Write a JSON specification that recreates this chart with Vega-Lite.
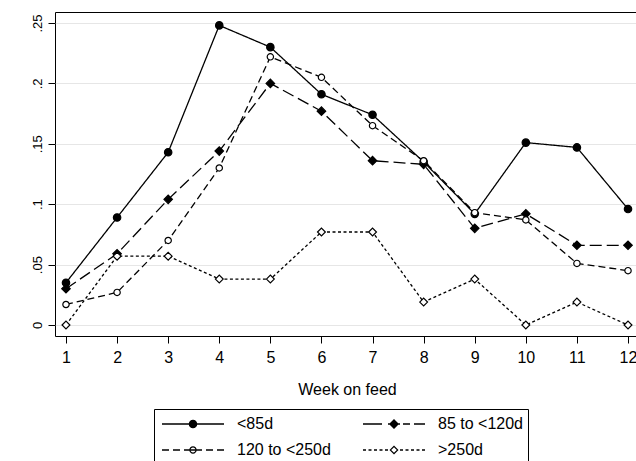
{
  "$schema": "https://vega.github.io/schema/vega-lite/v6.json",
  "autosize": "none",
  "padding": {"left": 55, "top": 12, "right": 0, "bottom": 125},
  "width": 584,
  "height": 324,
  "background": "white",
  "config": {
    "font": "Liberation Sans",
    "view": {"stroke": "black", "strokeWidth": 1},
    "axis": {"domain": false, "tickColor": "black", "tickWidth": 1, "labelColor": "black", "titleColor": "black", "titleFontWeight": "normal"}
  },
  "data": {
    "values": [
      {"week": 1, "group": "<85d", "value": 0.035},
      {"week": 2, "group": "<85d", "value": 0.089},
      {"week": 3, "group": "<85d", "value": 0.143},
      {"week": 4, "group": "<85d", "value": 0.248},
      {"week": 5, "group": "<85d", "value": 0.230},
      {"week": 6, "group": "<85d", "value": 0.191},
      {"week": 7, "group": "<85d", "value": 0.174},
      {"week": 8, "group": "<85d", "value": 0.135},
      {"week": 9, "group": "<85d", "value": 0.092},
      {"week": 10, "group": "<85d", "value": 0.151},
      {"week": 11, "group": "<85d", "value": 0.147},
      {"week": 12, "group": "<85d", "value": 0.096},
      {"week": 1, "group": "85 to <120d", "value": 0.030},
      {"week": 2, "group": "85 to <120d", "value": 0.059},
      {"week": 3, "group": "85 to <120d", "value": 0.104},
      {"week": 4, "group": "85 to <120d", "value": 0.144},
      {"week": 5, "group": "85 to <120d", "value": 0.200},
      {"week": 6, "group": "85 to <120d", "value": 0.177},
      {"week": 7, "group": "85 to <120d", "value": 0.136},
      {"week": 8, "group": "85 to <120d", "value": 0.133},
      {"week": 9, "group": "85 to <120d", "value": 0.080},
      {"week": 10, "group": "85 to <120d", "value": 0.092},
      {"week": 11, "group": "85 to <120d", "value": 0.066},
      {"week": 12, "group": "85 to <120d", "value": 0.066},
      {"week": 1, "group": "120 to <250d", "value": 0.017},
      {"week": 2, "group": "120 to <250d", "value": 0.027},
      {"week": 3, "group": "120 to <250d", "value": 0.070},
      {"week": 4, "group": "120 to <250d", "value": 0.130},
      {"week": 5, "group": "120 to <250d", "value": 0.222},
      {"week": 6, "group": "120 to <250d", "value": 0.205},
      {"week": 7, "group": "120 to <250d", "value": 0.165},
      {"week": 8, "group": "120 to <250d", "value": 0.136},
      {"week": 9, "group": "120 to <250d", "value": 0.093},
      {"week": 10, "group": "120 to <250d", "value": 0.087},
      {"week": 11, "group": "120 to <250d", "value": 0.051},
      {"week": 12, "group": "120 to <250d", "value": 0.045},
      {"week": 1, "group": ">250d", "value": 0.0},
      {"week": 2, "group": ">250d", "value": 0.057},
      {"week": 3, "group": ">250d", "value": 0.057},
      {"week": 4, "group": ">250d", "value": 0.038},
      {"week": 5, "group": ">250d", "value": 0.038},
      {"week": 6, "group": ">250d", "value": 0.077},
      {"week": 7, "group": ">250d", "value": 0.077},
      {"week": 8, "group": ">250d", "value": 0.019},
      {"week": 9, "group": ">250d", "value": 0.038},
      {"week": 10, "group": ">250d", "value": 0.0},
      {"week": 11, "group": ">250d", "value": 0.019},
      {"week": 12, "group": ">250d", "value": 0.0}
    ]
  },
  "encoding": {
    "x": {
      "field": "week", "type": "quantitative",
      "scale": {"domain": [0.785, 12.215], "nice": false, "zero": false},
      "axis": {"values": [1,2,3,4,5,6,7,8,9,10,11,12], "grid": false, "tickSize": 7, "labelPadding": 6, "labelFontSize": 16, "labelFlush": false, "labelOverlap": false, "title": "Week on feed", "titleFontSize": 16, "titlePadding": 16}
    },
    "y": {
      "field": "value", "type": "quantitative",
      "scale": {"domain": [-0.0091, 0.2591], "nice": false, "zero": false},
      "axis": {
        "values": [0, 0.05, 0.1, 0.15, 0.2, 0.25],
        "grid": true, "gridColor": "#e6e6e6", "gridWidth": 1,
        "tickSize": 7, "labelPadding": 6.3, "labelFontSize": 13,
        "labelAngle": 270, "labelAlign": "center", "labelBaseline": "alphabetic",
        "labelFlush": false, "labelOverlap": false,
        "labelExpr": "datum.value == 0 ? '0' : replace(format(datum.value, '.2~f'), '0.', '.')",
        "title": null,
        "encode": {"labels": {"update": {"dy": {"signal": "datum.value == 0 ? 0 : (abs(datum.value - 0.1) < 0.001 || abs(datum.value - 0.2) < 0.001) ? -9.7 : -19.2"}}}}
      }
    }
  },
  "layer": [
    {
      "mark": {"type": "point", "filled": true, "fill": "black", "strokeWidth": 0, "size": 0},
      "encoding": {
        "shape": {
          "field": "group", "type": "nominal",
          "scale": {
            "domain": ["<85d", "85 to <120d", "120 to <250d", ">250d"],
            "range": [
              "M-3.1,-0.065H3.1V0.065H-3.1Z M0,-0.43A0.43,0.43 0 1,1 0,0.43A0.43,0.43 0 1,1 0,-0.43Z",
              "M-3.1,-0.065H-1.2V0.065H-3.1Z M-0.6,-0.065H0.6V0.065H-0.6Z M0.9,-0.065H1.6V0.065H0.9Z M2,-0.065H3.1V0.065H2Z M0,-0.5L0.5,0L0,0.5L-0.5,0Z",
              "M-3.1,-0.065H-2.4V0.065H-3.1Z M-2,-0.065H-1.3V0.065H-2Z M-0.9,-0.065H0.9V0.065H-0.9Z M1.3,-0.065H2V0.065H1.3Z M2.4,-0.065H3.1V0.065H2.4Z M0,-0.37A0.37,0.37 0 1,1 0,0.37A0.37,0.37 0 1,1 0,-0.37Z M0,-0.25A0.25,0.25 0 1,0 0,0.25A0.25,0.25 0 1,0 0,-0.25Z",
              "M-3.1,-0.065H-2.8V0.065H-3.1Z M-2.55,-0.065H-2.25V0.065H-2.55Z M-2,-0.065H-1.7V0.065H-2Z M-1.45,-0.065H-1.15V0.065H-1.45Z M-0.9,-0.065H-0.6V0.065H-0.9Z M0.6,-0.065H0.9V0.065H0.6Z M1.15,-0.065H1.45V0.065H1.15Z M1.7,-0.065H2V0.065H1.7Z M2.25,-0.065H2.55V0.065H2.25Z M2.8,-0.065H3.1V0.065H2.8Z M0,-0.45L0.45,0L0,0.45L-0.45,0Z M0,-0.28L-0.28,0L0,0.28L0.28,0Z"
            ]
          },
          "legend": {
            "orient": "none", "legendX": 99, "legendY": 397,
            "title": null, "columns": 2, "direction": "horizontal",
            "symbolSize": 400, "symbolStrokeWidth": 0, "symbolOffset": 24,
            "symbolFillColor": "black", "symbolOpacity": 1,
            "labelOffset": 34, "labelFontSize": 16, "labelColor": "black", "labelFont": "Liberation Sans",
            "columnPadding": 29, "rowPadding": 8, "padding": 5,
            "strokeColor": "black", "fillColor": "white"
          }
        }
      }
    },
    {
      "mark": {"type": "line", "color": "black", "strokeWidth": 1.3},
      "encoding": {
        "detail": {"field": "group"},
        "strokeDash": {
          "field": "group", "type": "nominal", "legend": null,
          "scale": {"domain": ["<85d", "85 to <120d", "120 to <250d", ">250d"], "range": [[1, 0], [12, 5], [7, 4], [3, 2.5]]}
        }
      }
    },
    {
      "transform": [{"filter": "datum.group === '<85d'"}],
      "mark": {"type": "point", "shape": "circle", "filled": true, "fill": "black", "stroke": "black", "strokeWidth": 1.2, "opacity": 1, "size": 55}
    },
    {
      "transform": [{"filter": "datum.group === '85 to <120d'"}],
      "mark": {"type": "point", "shape": "diamond", "filled": true, "fill": "black", "stroke": "black", "strokeWidth": 1.2, "opacity": 1, "size": 72}
    },
    {
      "transform": [{"filter": "datum.group === '120 to <250d'"}],
      "mark": {"type": "point", "shape": "circle", "filled": true, "fill": "white", "stroke": "black", "strokeWidth": 1.2, "opacity": 1, "size": 40}
    },
    {
      "transform": [{"filter": "datum.group === '>250d'"}],
      "mark": {"type": "point", "shape": "diamond", "filled": true, "fill": "white", "stroke": "black", "strokeWidth": 1.2, "opacity": 1, "size": 61}
    }
  ]
}
